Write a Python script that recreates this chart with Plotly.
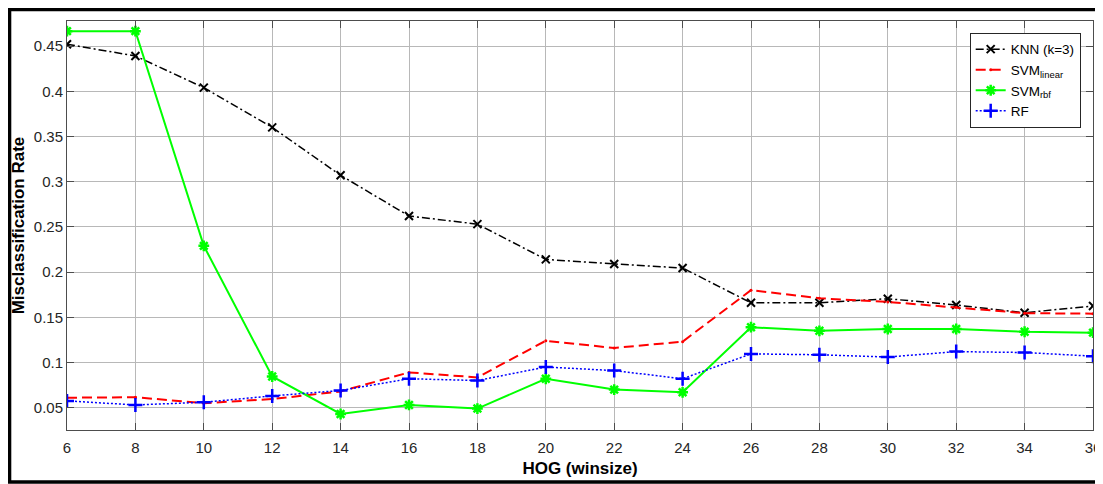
import plotly.graph_objects as go

winsize = [6, 8, 10, 12, 14, 16, 18, 20, 22, 24, 26, 28, 30, 32, 34, 36]

knn = [0.452, 0.439, 0.404, 0.360, 0.307, 0.262, 0.253, 0.214, 0.209, 0.2045,
       0.166, 0.166, 0.1705, 0.1635, 0.155, 0.1625]
svm_linear = [0.061, 0.0615, 0.055, 0.0595, 0.068, 0.089, 0.0835, 0.124, 0.116, 0.123,
              0.180, 0.171, 0.167, 0.161, 0.1545, 0.154]
svm_rbf = [0.4665, 0.4665, 0.229, 0.0845, 0.043, 0.053, 0.049, 0.082, 0.070, 0.067,
           0.139, 0.135, 0.137, 0.137, 0.134, 0.133]
rf = [0.0575, 0.053, 0.056, 0.063, 0.069, 0.082, 0.080, 0.095, 0.091, 0.082,
      0.1095, 0.1085, 0.106, 0.112, 0.111, 0.107]

x_ticks = list(range(6, 37, 2))
y_ticks = [0.05, 0.1, 0.15, 0.2, 0.25, 0.3, 0.35, 0.4, 0.45]
y_labels = ["0.05", "0.1", "0.15", "0.2", "0.25", "0.3", "0.35", "0.4", "0.45"]

fig = go.Figure()

fig.add_trace(go.Scatter(
    x=winsize, y=knn, mode="lines+markers", name="KNN (k=3)",
    line=dict(color="black", width=1.5, dash="8px,3px,2px,3px"),
    marker=dict(symbol="x-thin-open", size=8, line=dict(color="black", width=2)),
))
fig.add_trace(go.Scatter(
    x=winsize, y=svm_linear, mode="lines+markers", name="SVM<sub>linear</sub>",
    line=dict(color="red", width=2, dash="10px,5px"),
    marker=dict(symbol="circle", size=3, color="red"),
))
fig.add_trace(go.Scatter(
    x=winsize, y=svm_rbf, mode="lines+markers", name="SVM<sub>rbf</sub>",
    line=dict(color="#00ff00", width=2),
    marker=dict(symbol="asterisk-open", size=9, line=dict(color="#00ff00", width=2.5)),
))
fig.add_trace(go.Scatter(
    x=winsize, y=rf, mode="lines+markers", name="RF",
    line=dict(color="blue", width=1.5, dash="2px,2px"),
    marker=dict(symbol="cross-thin-open", size=10, line=dict(color="blue", width=2.5)),
))

# outer black frame around the figure
fig.add_shape(type="rect", xref="paper", yref="paper",
              x0=-0.056, x1=1.03, y0=-0.127, y1=1.028,
              line=dict(color="black", width=3.5), layer="above")

axis_common = dict(
    showgrid=True, gridcolor="#b8b8b8", gridwidth=1,
    showline=True, linecolor="#4d4d4d", linewidth=1, mirror="ticks",
    ticks="inside", ticklen=7, tickcolor="#4d4d4d",
    tickfont=dict(family="Liberation Sans, Arial", size=15, color="#262626"),
    zeroline=False, automargin=False,
)

# page body adds 8px of margin, so the figure is a bit smaller than the window
fig.update_layout(
    width=1095, height=476,
    margin=dict(l=59, r=10, t=13, b=54),
    paper_bgcolor="white", plot_bgcolor="white",
    font=dict(family="Liberation Sans, Arial", color="black"),
    xaxis=dict(range=[6, 36], tickvals=x_ticks, ticklabelstandoff=4,
               title=dict(text="<b>HOG (winsize)</b>", font=dict(size=17), standoff=7),
               **axis_common),
    yaxis=dict(range=[0.0253, 0.4777], tickvals=y_ticks, ticktext=y_labels,
               title=dict(text="<b>Misclassification Rate</b>", font=dict(size=17), standoff=4),
               **axis_common),
    legend=dict(x=0.988, y=0.971, xanchor="right", yanchor="top",
                bgcolor="white", bordercolor="#262626", borderwidth=1,
                font=dict(size=13.5, color="black"), tracegroupgap=0),
    showlegend=True,
)

fig.write_html("out.html")
